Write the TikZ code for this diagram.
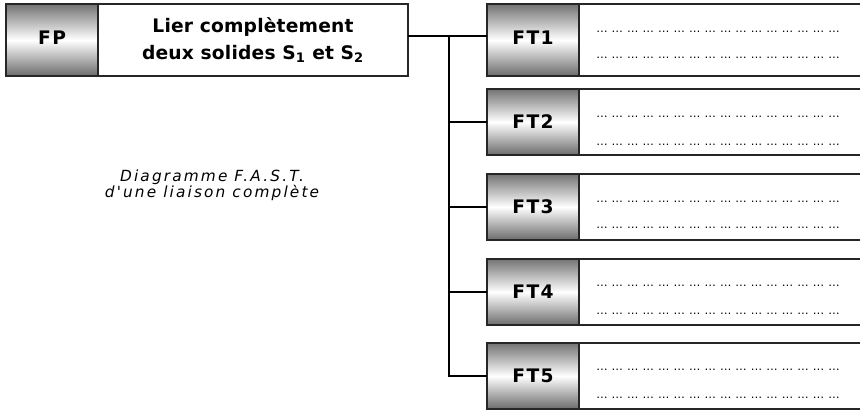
\documentclass[tikz,border=0pt]{standalone}
\usepackage{fontspec}
\setmainfont{DejaVu Sans}
\newfontfamily\lblfont[LetterSpace=8]{DejaVu Sans}
\newfontfamily\ttlfont[LetterSpace=1]{DejaVu Sans}
\newfontfamily\capfont[LetterSpace=14]{DejaVu Sans}
\newfontfamily\dotfont{DejaVu Sans}
\newcommand\dg{\makebox[11.6pt][l]{…}}
\newcommand\dotrow{\dg\dg\dg\dg\dg\dg\dg\dg\dg\dg\dg\dg\dg\dg\dg\dg}
\tikzset{
  gbox/.style={rectangle, draw=black!85, line width=1.3pt, top color=black!55, bottom color=black!58, middle color=white,
    minimum width=69pt, inner sep=0pt, outer sep=0pt, font=\lblfont\bfseries\fontsize{14}{16}\selectfont},
  wbox/.style={rectangle, draw=black!85, line width=1.3pt, fill=white, inner sep=0pt, outer sep=0pt},
  conn/.style={line width=1.1pt, black},
  dotline/.style={anchor=base west, inner sep=0pt, text=black, font=\dotfont\fontsize{8.5}{10}\selectfont},
}
\begin{document}
\begin{tikzpicture}[x=0.75pt,y=-0.75pt]
\useasboundingbox (0,0) rectangle (860,410);
\clip (0,0) rectangle (860,410);
\fill[white] (0,0) rectangle (860,410);
% FP
\node[wbox, minimum width=232.5pt, minimum height=54pt, align=center,
      font=\ttlfont\bfseries\fontsize{14}{18.5}\selectfont] (FPtext) at (253,40)
      {\raisebox{2pt}{Lier complètement}\\deux solides S\textsubscript{1} et S\textsubscript{2}};
\node[gbox, minimum height=54pt] (FP) at (52,40) {\raisebox{3pt}{FP}};
% FT boxes
\node[wbox, minimum width=218.25pt, minimum height=54pt] (W1) at (724.5,40) {};
\node[gbox, minimum height=54pt] (FT1) at (533,40) {\raisebox{3pt}{FT1}};
\node[wbox, minimum width=218.25pt, minimum height=49.5pt] (W2) at (724.5,122) {};
\node[gbox, minimum height=49.5pt] (FT2) at (533,122) {FT2};
\node[wbox, minimum width=218.25pt, minimum height=49.5pt] (W3) at (724.5,207) {};
\node[gbox, minimum height=49.5pt] (FT3) at (533,207) {FT3};
\node[wbox, minimum width=218.25pt, minimum height=50pt] (W4) at (724.5,292) {};
\node[gbox, minimum height=50pt] (FT4) at (533,292) {FT4};
\node[wbox, minimum width=218.25pt, minimum height=49.5pt] (W5) at (724.5,376) {};
\node[gbox, minimum height=49.5pt] (FT5) at (533,376) {FT5};
% dotted rows
\node[dotline] (d1a) at (596,32.5) {\dotrow};
\node[dotline] (d1b) at (596,58.5) {\dotrow};
\node[dotline] (d2a) at (596,117.5) {\dotrow};
\node[dotline] (d2b) at (596,145) {\dotrow};
\node[dotline] (d3a) at (596,202) {\dotrow};
\node[dotline] (d3b) at (596,228.5) {\dotrow};
\node[dotline] (d4a) at (596,286) {\dotrow};
\node[dotline] (d4b) at (596,314) {\dotrow};
\node[dotline] (d5a) at (596,370.5) {\dotrow};
\node[dotline] (d5b) at (596,398) {\dotrow};
% connectors
\coordinate (j0) at (449,36);
\draw[conn] (FPtext.east |- j0) -- (FT1.west |- j0);
\draw[conn] (j0) -- (j0 |- FT5.west) -- (FT5.west);
\draw[conn] (j0 |- FT2.west) -- (FT2.west);
\draw[conn] (j0 |- FT3.west) -- (FT3.west);
\draw[conn] (j0 |- FT4.west) -- (FT4.west);
% caption
\node[align=center, inner sep=0pt, font=\capfont\itshape\fontsize{11.5}{12}\selectfont] (cap) at (212,185)
  {Diagramme F.A.S.T.\\d'une liaison complète};
\end{tikzpicture}
\end{document}
